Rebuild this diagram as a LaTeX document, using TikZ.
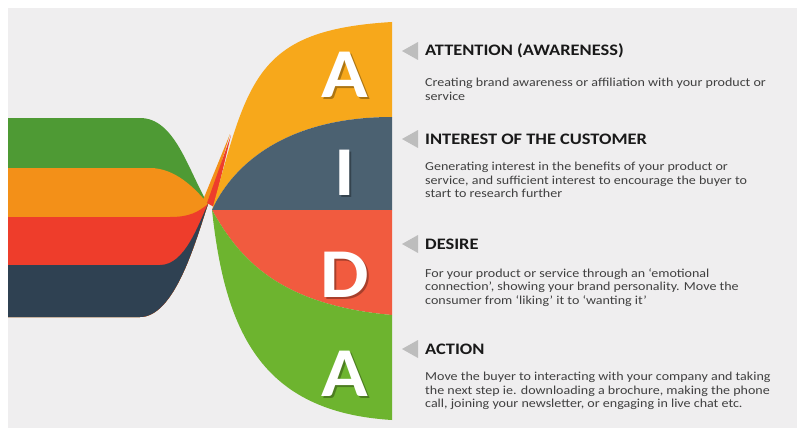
\documentclass[tikz,border=0pt]{standalone}
\usepackage{fontspec}
\setmainfont{Carlito}
\newfontfamily\kwide[Ligatures=TeX,FakeStretch=1.15]{Carlito}
\newfontfamily\ktext[Ligatures=TeX,FakeStretch=1.15]{Carlito}
\newfontfamily\kbig[FakeStretch=1.1]{Carlito}
\definecolor{bggray}{HTML}{EFEEEF}
\definecolor{lgreen}{HTML}{4E9A34}
\definecolor{lorange}{HTML}{F39018}
\definecolor{lred}{HTML}{EE3D2B}
\definecolor{lnavy}{HTML}{2F4152}
\definecolor{rorange}{HTML}{F7A81B}
\definecolor{rslate}{HTML}{4B6171}
\definecolor{rred}{HTML}{F15B3F}
\definecolor{rgreen}{HTML}{6DB42F}
\definecolor{ptrgray}{HTML}{BDBDBD}
\begin{document}
\begin{tikzpicture}[x=1pt,y=-1pt,
  headtxt/.style={anchor=base west,inner sep=0pt,font=\kwide\bfseries\fontsize{16}{18}\selectfont,text=black!90},
  bodytxt/.style={anchor=north west,inner sep=0pt,align=left,font=\ktext\fontsize{12.2}{13.5}\selectfont,text=black!75},
  bigletter/.style={inner sep=0pt,font=\kbig\bfseries\fontsize{70}{70}\selectfont,text=white},
  lettershadow/.style={bigletter,text=black,text opacity=0.3}]
\pgfmathsetmacro{\kxr}{392}
\pgfmathsetmacro{\kxl}{8}
\pgfmathsetmacro{\kmid}{210}
\useasboundingbox (0,0) rectangle (797,428);
\fill[bggray] (\kxl,8) rectangle (797,428);
\coordinate (p) at (208,204);
\coordinate (q) at (212,\kmid);
% left ribbons, drawn top to bottom so each covers the one above
\fill[lgreen] (\kxl,118) -- (140,118) .. controls (175,118) and (188,170) .. (p) .. controls (196,240) and (175,317) .. (140,317) -- (\kxl,317) -- cycle;
\fill[lorange] (\kxl,168) -- (150,168) .. controls (175,168) and (195,188) .. (p) .. controls (196,240) and (175,317) .. (140,317) -- (\kxl,317) -- cycle;
\fill[lred] (\kxl,217) -- (170,217) .. controls (190,217) and (198,212) .. (p) .. controls (196,240) and (175,317) .. (140,317) -- (\kxl,317) -- cycle;
\fill[lnavy] (\kxl,265) -- (160,265) .. controls (185,265) and (198,225) .. (p) .. controls (196,240) and (175,317) .. (140,317) -- (\kxl,317) -- cycle;
% twisted tip
\fill[lorange] (203,200) -- (230,134) -- (209,204) -- cycle;
\fill[lred] (207,203) -- (231,135) -- (214,207) -- cycle;
% right fan
\fill[rorange] (q) .. controls (248,80) and (255,30) .. (\kxr,22) -- (\kxr,117) .. controls (280,117) and (230,170) .. (q) -- cycle;
\fill[rslate] (q) .. controls (230,170) and (280,117) .. (\kxr,117) -- (\kxr,\kmid) -- cycle;
\fill[rred] (q) -- (\kxr,\kmid) -- (\kxr,315) .. controls (280,305) and (240,260) .. (q) -- cycle;
\fill[rgreen] (q) .. controls (240,260) and (280,305) .. (\kxr,315) -- (\kxr,420) .. controls (260,412) and (225,330) .. (q) -- cycle;
\foreach \kn/\ky/\klb in {1/75/A,2/173/I,3/275/D,4/374/A}{
  \node[lettershadow] (s\kn) at (346.5,\ky+1.5) {\klb};
  \node[bigletter] (l\kn) at (345,\ky) {\klb};
}
%\draw[red] (425,0)--(425,428);
\foreach \kn/\ky/\kb/\khead/\kbody in {
  1/51/78/{ATTENTION (AWARENESS)}/{Creating brand awareness or affiliation with your product or\\service},
  2/139/162/{INTEREST OF THE CUSTOMER}/{Generating interest in the benefits of your product or\\service, and sufficient interest to encourage the buyer to\\start to research further},
  3/244/268/{DESIRE}/{For your product or service through an `emotional\\connection', showing your brand personality. Move the\\consumer from `liking' it to `wanting it'},
  4/349/372/{ACTION}/{Move the buyer to interacting with your company and taking\\the next step ie. downloading a brochure, making the phone\\call, joining your newsletter, or engaging in live chat etc.}}{
  \fill[ptrgray] (402,\ky) -- (418,\ky-9) -- (418,\ky+9) -- cycle;
  \node[headtxt] (h\kn) at (425,\ky+5) {\khead};
  \node[bodytxt] (b\kn) at (425,\kb) {\kbody};
}
\end{tikzpicture}
\end{document}
